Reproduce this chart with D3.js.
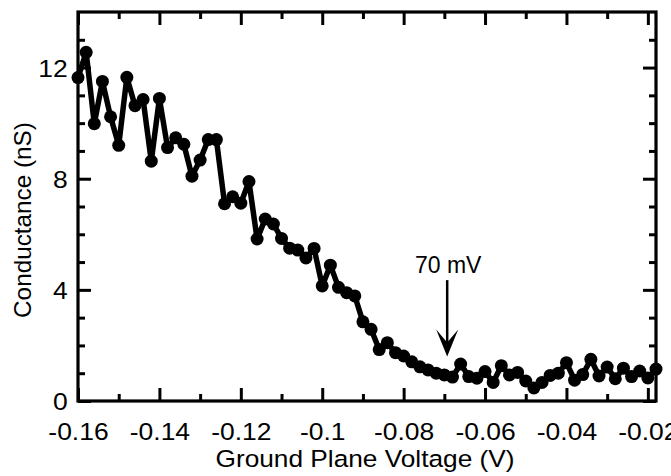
<!DOCTYPE html>
<html><head><meta charset="utf-8">
<script src="https://cdn.jsdelivr.net/npm/d3@7"></script>
<style>body{margin:0;background:#fff}svg{display:block}text{font-family:"Liberation Sans",Arial,sans-serif;fill:#000}</style>
</head><body>
<svg id="c" width="671" height="476"></svg>
<script>
const xStart = -0.16, xStep = 0.002;
const conductance = [11.64,12.55,9.98,11.5,10.23,9.2,11.65,10.63,10.85,8.63,
10.89,9.12,9.47,9.24,8.09,8.67,9.41,9.41,7.1,7.35,
7.12,7.9,5.83,6.55,6.37,5.85,5.5,5.43,5.15,5.49,
4.14,4.89,4.09,3.9,3.78,2.85,2.58,1.85,2.1,1.74,
1.62,1.41,1.23,1.12,1.0,0.94,0.86,1.33,0.88,0.82,
1.06,0.67,1.27,0.94,1.03,0.72,0.47,0.67,0.92,1.0,
1.38,0.75,0.95,1.5,0.9,1.22,0.8,1.18,0.88,1.08,
0.83,1.15];
const voltage = conductance.map((_, i) => xStart + i * xStep);
const xMajorTicks = [-0.16,-0.14,-0.12,-0.1,-0.08,-0.06,-0.04,-0.02];
const xMinorTicks = [-0.15,-0.13,-0.11,-0.09,-0.07,-0.05,-0.03];
const xTickLabels = ["-0.16","-0.14","-0.12","-0.1","-0.08","-0.06","-0.04","-0.02"];
const yMajorTicks = [0,4,8,12];
const yMinorTicks = [1,2,3,5,6,7,9,10,11,13];
const yTickLabels = ["0","4","8","12"];
const annotation = {text: "70 mV", x: -0.0693, yTop: 4.35, yTip: 1.6};

const L = 78, R = 656, T = 12, B = 401;
const SX = 1.08; // horizontal text stretch seen in the reference
const x = d3.scaleLinear().domain([-0.16, -0.018]).range([L, R]);
const y = d3.scaleLinear().domain([0, 14]).range([B, T]);
const svg = d3.select("#c");

svg.append("rect").attr("x", L).attr("y", T).attr("width", R - L).attr("height", B - T)
  .attr("fill", "none").attr("stroke", "#000").attr("stroke-width", 3.2);

const majLen = 13, minLen = 7;
function xTicks(vals, len, labels) {
  const bottom = svg.append("g").attr("transform", `translate(0,${B})`)
    .call(d3.axisBottom(x).tickValues(vals).tickSizeInner(-len).tickSizeOuter(0)
      .tickFormat((d, i) => labels ? labels[i] : ""));
  const top = svg.append("g").attr("transform", `translate(0,${T})`)
    .call(d3.axisTop(x).tickValues(vals).tickSizeInner(-len).tickSizeOuter(0).tickFormat(""));
  [bottom, top].forEach(g => { g.select(".domain").remove(); g.selectAll("line").attr("stroke-width", 3); });
  bottom.selectAll("text").attr("font-size", 24.5).attr("dy", "0").attr("y", 39)
    .attr("transform", `scale(${SX},1)`)
    .style("font-family", "'Liberation Sans',Arial,sans-serif");
}
function yTicks(vals, len, labels) {
  const left = svg.append("g").attr("transform", `translate(${L},0)`)
    .call(d3.axisLeft(y).tickValues(vals).tickSizeInner(-len).tickSizeOuter(0)
      .tickFormat((d, i) => labels ? labels[i] : ""));
  const right = svg.append("g").attr("transform", `translate(${R},0)`)
    .call(d3.axisRight(y).tickValues(vals).tickSizeInner(-len).tickSizeOuter(0).tickFormat(""));
  [left, right].forEach(g => { g.select(".domain").remove(); g.selectAll("line").attr("stroke-width", 3); });
  left.selectAll("text").attr("font-size", 24.5).attr("x", -9.5).attr("dy", "0.36em")
    .attr("transform", `scale(${SX},1)`)
    .style("font-family", "'Liberation Sans',Arial,sans-serif");
}
xTicks(xMajorTicks, majLen, xTickLabels);
xTicks(xMinorTicks, minLen, null);
yTicks(yMajorTicks, majLen, yTickLabels);
yTicks(yMinorTicks, minLen, null);

svg.append("text").attr("transform", `translate(365,467) scale(${SX},1)`).attr("text-anchor", "middle")
  .attr("font-size", 24.3).text("Ground Plane Voltage (V)");
svg.append("text").attr("transform", `translate(31,220) rotate(-90)`).attr("text-anchor", "middle")
  .attr("font-size", 24.3).text("Conductance (nS)");

const pts = voltage.map((v, i) => [v, conductance[i]]);
svg.append("path").datum(pts)
  .attr("d", d3.line().x(d => x(d[0])).y(d => y(d[1])))
  .attr("fill", "none").attr("stroke", "#000").attr("stroke-width", 5.5).attr("stroke-linejoin", "round");
svg.append("g").selectAll("circle").data(pts).join("circle")
  .attr("cx", d => x(d[0])).attr("cy", d => y(d[1])).attr("r", 6.5).attr("fill", "#000");

const ax = x(annotation.x), aTop = y(annotation.yTop), aTip = y(annotation.yTip);
svg.append("line").attr("x1", ax).attr("x2", ax).attr("y1", aTop).attr("y2", aTip - 8)
  .attr("stroke", "#000").attr("stroke-width", 2.5);
svg.append("path")
  .attr("d", `M${ax},${aTip} L${ax - 11},${aTip - 27} L${ax},${aTip - 14} L${ax + 11},${aTip - 27} Z`)
  .attr("fill", "#000");
svg.append("text").attr("x", ax + 1).attr("y", aTop - 7).attr("text-anchor", "middle")
  .attr("font-size", 23).text(annotation.text);
</script>
</body></html>
